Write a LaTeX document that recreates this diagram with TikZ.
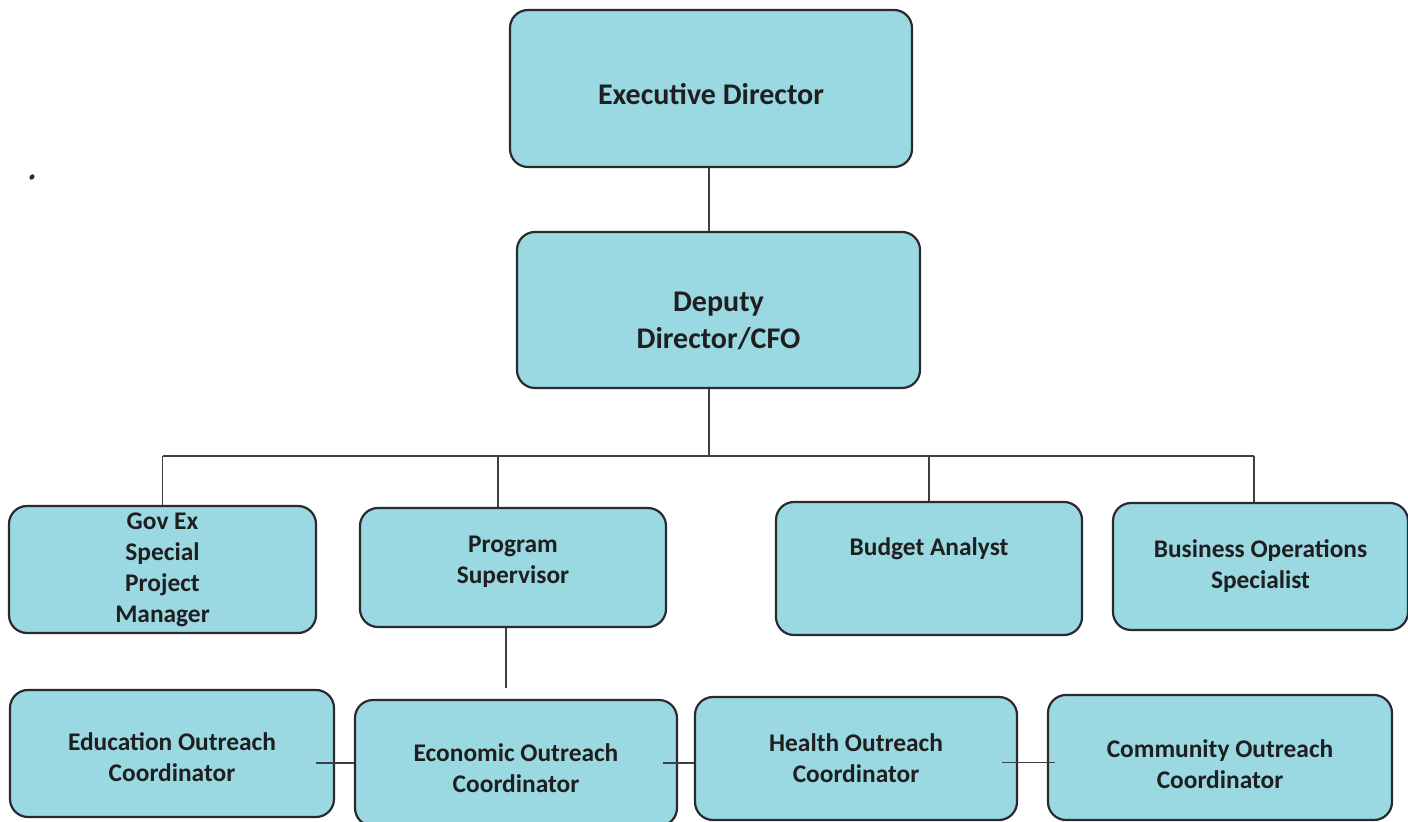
\documentclass[tikz,border=0pt]{standalone}
\usepackage{fontspec}
\setmainfont{Carlito}
\usepackage{tikz}
\definecolor{boxfill}{RGB}{154,216,226}
\definecolor{boxline}{RGB}{42,42,46}
\tikzset{box node/.style={draw=boxline,fill=boxfill,line width=1.1pt,rounded corners=9pt,inner sep=0pt},
	big text/.style={align=center,text=black!88,font=\bfseries\fontsize{15}{18.5}\selectfont},
	small text/.style={align=center,text=black!88,font=\bfseries\fontsize{12.7}{15.5}\selectfont},
	link/.style={draw=boxline!90,line width=0.7pt},}

\begin{document}
\begin{tikzpicture}[x=0.5pt,y=-0.5pt]
	\useasboundingbox (0,0) rectangle (1408,822);
	\fill[boxline,rotate around={-40:(32,177)}] (32,177) ellipse (1.1pt and 1.5pt);

	\node[box node,minimum width=201pt,minimum height=78.5pt,label={[big text,yshift=-2.75pt]center:Executive Director}] (exec) at (711,88.5) {};
	\node[box node,minimum width=201.5pt,minimum height=78pt,label={[big text,yshift=-5.5pt]center:Deputy\\Director/CFO}] (deputy) at (718.5,310) {};

	\node[box node,minimum width=153.5pt,minimum height=63.5pt,label={[small text]center:Gov Ex\\Special\\Project\\Manager}] (govex) at (162.5,569.5) {};
	\node[box node,minimum width=153pt,minimum height=59.5pt,label={[small text,yshift=2.75pt]center:Program\\Supervisor}] (prog) at (513,567.5) {};
	\node[box node,minimum width=153pt,minimum height=66.5pt,label={[small text,yshift=10pt]center:Budget Analyst}] (budget) at (929,568.5) {};
	\node[box node,minimum width=147.5pt,minimum height=63.5pt,label={[small text]center:Business Operations\\Specialist}] (busops) at (1260.5,566.5) {};

	\node[box node,minimum width=162pt,minimum height=63.5pt,label={[small text,yshift=-2pt]center:Education Outreach\\Coordinator}] (edu) at (172,753.5) {};
	\node[box node,minimum width=161pt,minimum height=63pt,label={[small text,yshift=-2.75pt]center:Economic Outreach\\Coordinator}] (econ) at (516,763) {};
	\node[box node,minimum width=161pt,minimum height=61.5pt,label={[small text]center:Health Outreach\\Coordinator}] (health) at (856,758.5) {};
	\node[box node,minimum width=172pt,minimum height=62.5pt,label={[small text,yshift=-3.25pt]center:Community Outreach\\Coordinator}] (comm) at (1220,757.5) {};

	\coordinate (bus) at (709,456);

	\path[link]
	(exec.south -| bus) edge (deputy.north -| bus)
	(deputy.south -| bus) edge (bus)
	(govex.north |- bus) edge ([xshift=-3.25pt]busops.north |- bus)
	(govex.north |- bus) edge (govex.north)
	([xshift=-7.5pt]prog.north |- bus) edge ([xshift=-7.5pt]prog.north)
	(budget.north |- bus) edge (budget.north)
	([xshift=-3.25pt]busops.north |- bus) edge ([xshift=-3.25pt]busops.north)
	([xshift=-3.5pt]prog.south) edge ([xshift=-3.5pt,yshift=5.5pt]prog.south |- econ.north)
	([xshift=-9.5pt]edu.east |- econ.west) edge (econ.west)
	([xshift=-7.5pt]econ.east) edge (econ.east -| health.west)
	([xshift=-8pt,yshift=-2pt]health.east) edge ([xshift=4pt,yshift=-2pt]comm.west |- health.east);
\end{tikzpicture}
\end{document}
